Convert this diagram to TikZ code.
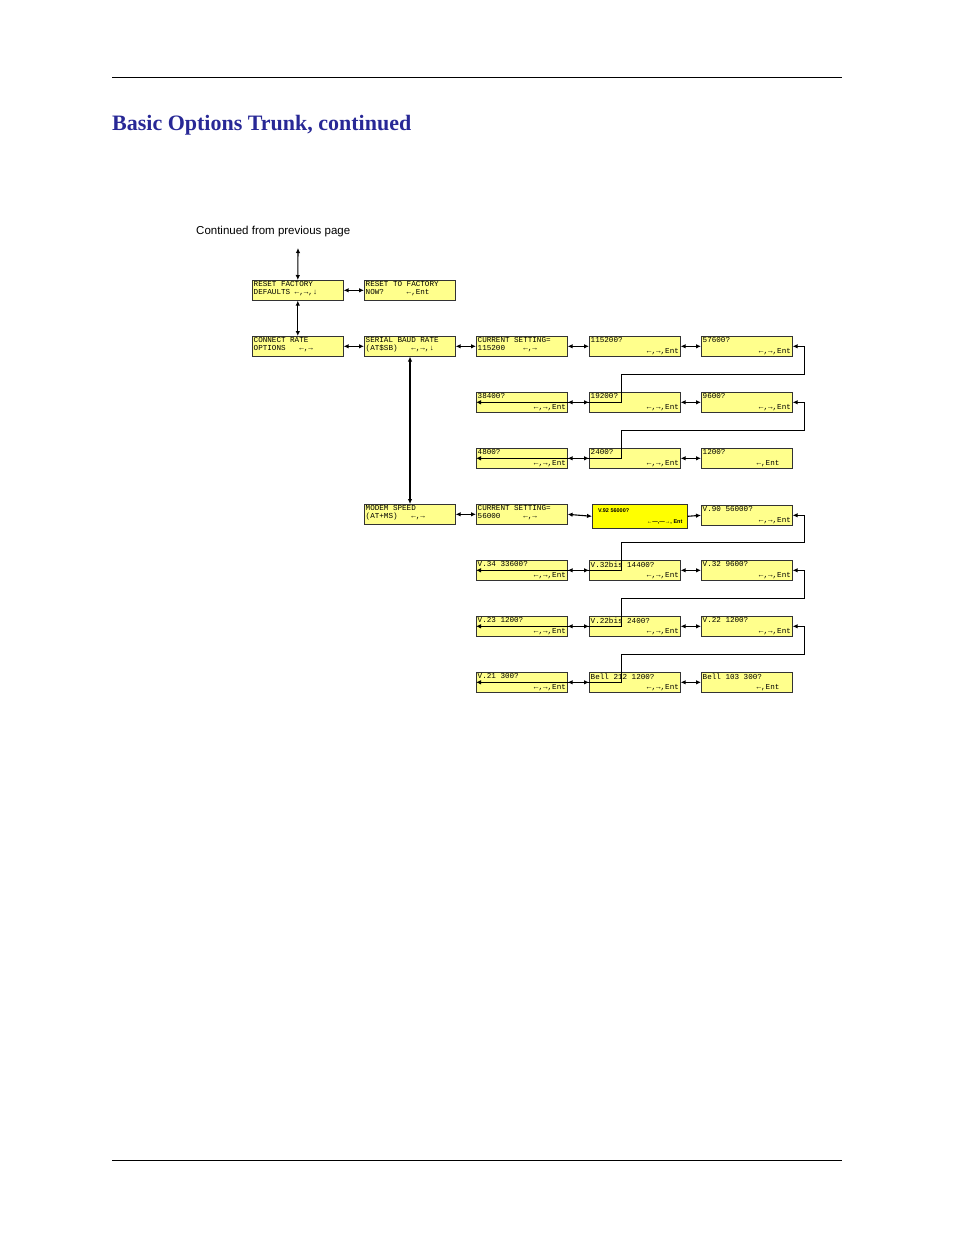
\documentclass[tikz,border=0pt]{standalone}
\usepackage{fontspec}
\setmainfont{Liberation Sans}
\newfontfamily\lcdfont{Liberation Mono}
\newfontfamily\ttlfont{Liberation Serif}
\usetikzlibrary{arrows.meta,calc}
\definecolor{lcdy}{RGB}{255,255,140}
\definecolor{lcdh}{RGB}{255,255,0}
\definecolor{ttlblue}{RGB}{40,40,150}
\newcommand\lcdtwo[4]{\node[lcdbox] (#1) at (#2) {};
  \node[lcdtxt,anchor=north west,align=left] at ([xshift=1.5pt,yshift=-1.5pt]#1.north west) {#3\\#4};}
\newcommand\lcdopt[3]{\node[lcdbox] (#1) at (#2) {};
  \node[lcdtxt,anchor=north west] at ([xshift=1.5pt,yshift=-1.5pt]#1.north west) {#3};
  \node[lcdtxt,anchor=south east] at ([xshift=-1.5pt,yshift=1.5pt]#1.south east) {←,→,Ent};}
\newcommand\lcdlast[3]{\node[lcdbox] (#1) at (#2) {};
  \node[lcdtxt,anchor=north west] at ([xshift=1.5pt,yshift=-1.5pt]#1.north west) {#3};
  \node[lcdtxt,anchor=south east] at ([xshift=-13pt,yshift=1.5pt]#1.south east) {←,Ent};}
\begin{document}
\begin{tikzpicture}[x=1pt,y=-1pt,
  lcdbox/.style={draw=black!80,fill=lcdy,line width=0.6pt,minimum width=91pt,minimum height=20pt,inner sep=0pt,anchor=north west},
  lcdtxt/.style={inner sep=0pt,font=\lcdfont\fontsize{7.6}{8}\selectfont},
  dbl/.style={line width=1.1pt,{Latex[length=5pt,width=4.5pt]}-{Latex[length=5pt,width=4.5pt]}},
  sgl/.style={line width=1.1pt,-{Latex[length=5pt,width=4.5pt]}}]
\useasboundingbox (0,0) rectangle (954,1235);
\draw[line width=0.6pt] (112,77) -- (842,77);
\draw[line width=0.6pt] (112,1160) -- (842,1160);
\node[anchor=west,inner sep=0,text=ttlblue,font=\ttlfont\bfseries\fontsize{22}{24}\selectfont] (title) at (112,125) {Basic Options Trunk, continued};
\node[anchor=west,inner sep=0,font=\fontsize{11.5}{13}\selectfont] (cont) at (196,232) {Continued from previous page};
\lcdtwo{rf}{252,280}{RESET FACTORY}{DEFAULTS ←,→,↓}
\lcdtwo{rtf}{364,280}{RESET TO FACTORY}{NOW?\ \ \ \ \ ←,Ent}
\lcdtwo{cr}{252,336}{CONNECT RATE}{OPTIONS\ \ \ ←,→}
\lcdtwo{sb}{364,336}{SERIAL BAUD RATE}{(AT\$SB)\ \ \ ←,→,↓}
\lcdtwo{cs1}{476,336}{CURRENT SETTING=}{115200\ \ \ \ ←,→}
\lcdopt{b1}{589,336}{115200?}
\lcdopt{b2}{701,336}{57600?}
\lcdopt{b3}{476,392}{38400?}
\lcdopt{b4}{589,392}{19200?}
\lcdopt{b5}{701,392}{9600?}
\lcdopt{b6}{476,448}{4800?}
\lcdopt{b7}{589,448}{2400?}
\lcdlast{b8}{701,448}{1200?}
\lcdtwo{ms}{364,504}{MODEM SPEED}{(AT+MS)\ \ \ ←,→}
\lcdtwo{cs2}{476,504}{CURRENT SETTING=}{56000\ \ \ \ \ ←,→}
\node[draw=black!80,fill=lcdh,line width=0.6pt,minimum width=95pt,minimum height=24pt,inner sep=0pt,anchor=north west] (v92) at (592,504) {};
\node[anchor=north west,inner sep=0,font=\bfseries\fontsize{5.5}{6}\selectfont] at ([xshift=6pt,yshift=-4pt]v92.north west) {V.92 56000?};
\node[anchor=south east,inner sep=0,font=\bfseries\fontsize{5.5}{6}\selectfont] at ([xshift=-5pt,yshift=4pt]v92.south east) {←—,—→, Ent};
\lcdopt{v90}{701,505}{V.90 56000?}
\lcdopt{v34}{476,560}{V.34 33600?}
\lcdopt{v32b}{589,560}{V.32bis 14400?}
\lcdopt{v32}{701,560}{V.32 9600?}
\lcdopt{v23}{476,616}{V.23 1200?}
\lcdopt{v22b}{589,616}{V.22bis 2400?}
\lcdopt{v22}{701,616}{V.22 1200?}
\lcdopt{v21}{476,672}{V.21 300?}
\lcdopt{bl2}{589,672}{Bell 212 1200?}
\lcdlast{bl1}{701,672}{Bell 103 300?}
\coordinate (top) at (298,248);
\draw[dbl] (top) -- (rf.north);
\draw[dbl] (rf.south) -- (cr.north);
\draw[dbl] ([xshift=46pt]sb.south west) -- ([xshift=46pt]ms.north west);
\foreach \a/\b in {rf/rtf,cr/sb,sb/cs1,cs1/b1,b1/b2,b3/b4,b4/b5,b6/b7,b7/b8,ms/cs2,cs2/v92,v34/v32b,v32b/v32,v23/v22b,v22b/v22,v21/bl2,bl2/bl1}
  \draw[dbl] (\a.east) -- (\b.west);
\draw[sgl] (v92.east) -- (v90.west);
\foreach \a/\b in {b2/b3,b5/b6,v90/v34,v32/v23,v22/v21}
  \draw[dbl] (\a.east) -- ++(12,0) |- ([xshift=-13pt]$(\a.east)!.5!(\b.west)$) |- (\b.west);
\end{tikzpicture}
\end{document}
